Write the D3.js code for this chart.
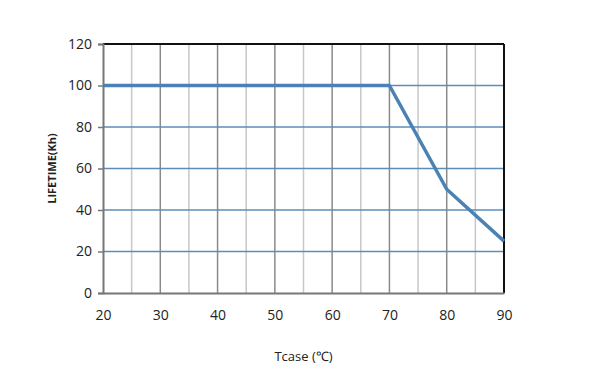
<!DOCTYPE html>
<html>
<head>
<meta charset="utf-8">
<script src="https://cdn.jsdelivr.net/npm/d3@7"></script>
<style>
  body { margin: 0; background: #fff; }
  text { font-family: "Open Sans", sans-serif; fill: #222; }
</style>
</head>
<body>
<div id="chart"></div>
<script>
// data
const tcase = [20, 70, 80, 90];
const lifetime = [100, 100, 50, 25];
const xTicks = [20, 30, 40, 50, 60, 70, 80, 90];
const xMinor = [25, 35, 45, 55, 65, 75, 85];
const yTicks = [0, 20, 40, 60, 80, 100, 120];

const width = 600, height = 379;
const margin = {top: 44, right: 96, bottom: 86, left: 103};

const svg = d3.select("#chart").append("svg")
    .attr("width", width)
    .attr("height", height);

const x = d3.scaleLinear().domain([20, 90]).range([margin.left, width - margin.right]);
const y = d3.scaleLinear().domain([0, 120]).range([height - margin.bottom, margin.top]);

// minor vertical grid
svg.append("g").selectAll("line").data(xMinor).join("line")
    .attr("x1", d => x(d)).attr("x2", d => x(d))
    .attr("y1", y(120)).attr("y2", y(0))
    .attr("stroke", "#c8c8c8").attr("stroke-width", 1.5);

// major vertical grid
svg.append("g").selectAll("line").data(xTicks.slice(1, -1)).join("line")
    .attr("x1", d => x(d)).attr("x2", d => x(d))
    .attr("y1", y(120)).attr("y2", y(0))
    .attr("stroke", "#8a8a8a").attr("stroke-width", 1.5);

// horizontal grid
svg.append("g").selectAll("line").data(yTicks.slice(1, -1)).join("line")
    .attr("x1", x(20)).attr("x2", x(90))
    .attr("y1", d => y(d)).attr("y2", d => y(d))
    .attr("stroke", "#5b8db8").attr("stroke-width", 1.5);

// frame: top and right black
svg.append("line")
    .attr("x1", x(20)).attr("x2", x(90)).attr("y1", y(120)).attr("y2", y(120))
    .attr("stroke", "#111").attr("stroke-width", 2);
svg.append("line")
    .attr("x1", x(90)).attr("x2", x(90)).attr("y1", y(120)).attr("y2", y(0))
    .attr("stroke", "#111").attr("stroke-width", 2);

// axes
const yAxis = svg.append("g")
    .attr("transform", `translate(${x(20)},0)`)
    .call(d3.axisLeft(y).tickValues(yTicks).tickSize(5).tickPadding(6));
const xAxis = svg.append("g")
    .attr("transform", `translate(0,${y(0)})`)
    .call(d3.axisBottom(x).tickValues(xTicks).tickSize(0).tickPadding(17));

[yAxis, xAxis].forEach(g => {
    g.select(".domain").attr("stroke", "#777").attr("stroke-width", 2);
    g.selectAll(".tick line").attr("stroke", "#777").attr("stroke-width", 1.5);
    g.selectAll(".tick text").style("font-size", "14px").attr("fill", "#222");
});

// series line
const line = d3.line()
    .x((d, i) => x(tcase[i]))
    .y(d => y(d));
svg.append("path")
    .datum(lifetime)
    .attr("fill", "none")
    .attr("stroke", "#4a82b4")
    .attr("stroke-width", 3.5)
    .attr("stroke-linejoin", "round")
    .attr("d", line);

// axis titles
svg.append("text")
    .attr("x", (x(20) + x(90)) / 2)
    .attr("y", 361)
    .attr("text-anchor", "middle")
    .style("font-size", "13px")
    .text("Tcase (℃)");

svg.append("text")
    .attr("transform", `translate(56,${(y(0) + y(120)) / 2}) rotate(-90)`)
    .attr("text-anchor", "middle")
    .style("font-size", "11px")
    .style("font-weight", "bold")
    .text("LIFETIME(Kh)");
</script>
</body>
</html>
